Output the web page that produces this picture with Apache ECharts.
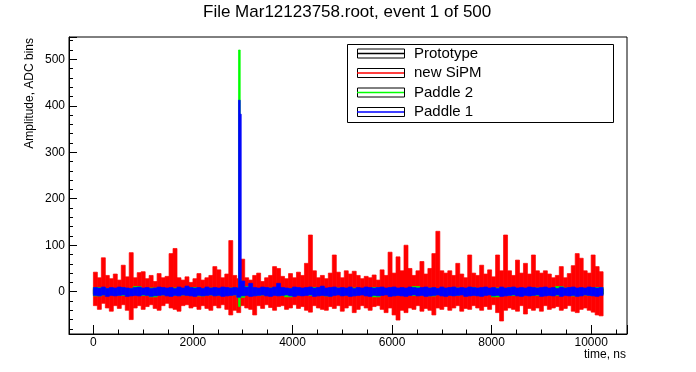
<!DOCTYPE html>
<html><head><meta charset="utf-8">
<script src="https://cdn.jsdelivr.net/npm/echarts@6/dist/echarts.min.js"></script>
<style>html,body{margin:0;padding:0;background:#fff}#c{width:696px;height:372px}</style>
</head><body><div id="c"></div>
<script>
const titleText = 'File Mar12123758.root, event 1 of 500';
const seriesNames = ['Prototype', 'new SiPM', 'Paddle 2', 'Paddle 1'];
const seriesColors = ['#000000', '#ff0000', '#00ff00', '#0000ff'];

// time bin (ns) of each stored envelope array; bin k spans [k*step, (k+1)*step]
const fineStep = 80;
const coarseStep = 160;

const redHigh = [
 42,30,73,35,28,38,25,57,32,84,30,41,43,28,35,22,
 39,30,33,82,93,30,25,32,20,28,39,25,30,35,54,47,
 30,38,110,35,28,70,30,25,35,40,22,30,35,54,50,33,
 28,39,30,42,35,61,122,45,30,35,28,40,79,42,30,45,
 38,44,35,28,33,30,36,25,47,35,85,40,75,45,100,50,
 35,45,65,38,50,82,130,45,40,45,35,61,38,30,79,40,
 35,57,38,47,32,79,45,122,45,35,68,40,61,38,79,45,
 40,45,38,30,35,54,30,39,56,82,72,45,40,79,54,43];
const redLow = [
 -30,-38,-25,-35,-42,-30,-36,-28,-40,-60,-35,-30,-38,-32,-28,-36,
 -40,-30,-25,-35,-38,-42,-30,-28,-35,-32,-38,-30,-36,-40,-30,-35,
 -28,-38,-50,-40,-45,-30,-35,-38,-50,-30,-36,-28,-34,-40,-32,-30,
 -38,-35,-28,-36,-32,-40,-44,-30,-35,-38,-40,-32,-36,-30,-42,-35,
 -30,-45,-38,-30,-35,-40,-32,-30,-38,-45,-35,-50,-61,-40,-45,-35,
 -38,-30,-42,-36,-40,-50,-35,-38,-32,-40,-35,-30,-42,-36,-38,-30,
 -35,-40,-32,-38,-28,-45,-63,-40,-35,-38,-42,-30,-48,-36,-40,-35,
 -42,-30,-38,-35,-32,-40,-36,-30,-42,-45,-38,-35,-40,-44,-50,-52];

const blueHigh = [
 9,8,10,7,9,8,10,9,8,7,9,10,8,9,7,8,
 10,9,8,9,7,10,8,12,9,8,9,7,10,8,9,8,
 10,9,8,9,8,23,10,18,9,8,10,9,8,10,18,9,
 8,7,10,9,8,9,10,8,9,12,8,9,10,8,9,8,
 10,7,9,8,10,9,8,9,10,8,9,10,8,9,8,10,
 9,8,9,10,8,9,7,10,8,9,10,8,9,8,10,9,
 8,9,10,8,9,7,10,8,9,10,8,9,8,10,9,8,
 9,10,8,9,7,10,8,9,10,8,9,8,10,9,8,9];
const blueLow = [
 -8,-9,-7,-10,-8,-9,-8,-7,-10,-9,-8,-9,-7,-8,-10,-9,
 -8,-7,-9,-10,-8,-9,-7,-8,-9,-10,-8,-9,-8,-7,-9,-8,
 -10,-9,-8,-7,-12,-9,-8,-10,-9,-8,-7,-9,-10,-8,-9,-8,
 -7,-9,-10,-8,-9,-8,-7,-10,-9,-8,-9,-10,-8,-7,-9,-8,
 -10,-9,-8,-7,-9,-10,-8,-9,-8,-7,-10,-9,-8,-9,-10,-8,
 -7,-9,-8,-10,-9,-8,-7,-9,-10,-8,-9,-8,-7,-10,-9,-8,
 -9,-10,-8,-7,-9,-8,-10,-9,-8,-7,-9,-10,-8,-9,-8,-7,
 -10,-9,-8,-9,-7,-10,-8,-9,-8,-10,-9,-7,-8,-9,-10,-8];
// pulse bins: [tStart, tEnd, low, high]
const bluePulse = [[2915, 2950, -6, 412], [2950, 2970, -6, 382]];

const greenHigh = [
 9,7,6,8,7,11,6,8,7,6,8,7,9,6,8,7,
 6,8,7,11,6,7,8,6,7,8,6,9,7,6,8,7,
 8,6,7,9,6,8,7,6,11,7,8,6,7,8,6,9,
 7,6,8,7,9,6,7,8,6,7,11,8,6,7,8,9];
const greenLow = [
 -9,-7,-6,-8,-7,-6,-8,-11,-7,-6,-8,-7,-6,-9,-7,-8,
 -6,-7,-12,-6,-8,-7,-6,-8,-11,-7,-6,-8,-7,-9,-6,-7,
 -8,-6,-7,-11,-6,-8,-7,-6,-8,-7,-9,-6,-7,-8,-6,-7,
 -8,-6,-11,-7,-8,-6,-7,-8,-6,-7,-8,-6,-9,-7,-8,-6];
const greenPulse = [[2915, 2950, -32, 520], [2950, 2975, -4, 25]];

const blackHigh = [
 5,4,6,5,4,5,6,4,5,5,4,6,5,4,5,6,
 4,5,5,6,4,5,4,6,5,5,4,5,6,4,5,5,
 4,6,5,4,5,5,6,4,5,4,6,5,5,4,5,6,
 4,5,5,6,4,5,4,6,5,5,4,5,6,4,5,6];
const blackLow = [
 -5,-4,-6,-5,-4,-5,-6,-4,-5,-5,-4,-6,-5,-4,-5,-6,
 -4,-5,-5,-6,-4,-5,-4,-6,-5,-5,-4,-5,-6,-4,-5,-5,
 -4,-6,-5,-4,-5,-5,-6,-4,-5,-4,-6,-5,-5,-4,-5,-6,
 -4,-5,-10,-6,-4,-5,-4,-6,-5,-5,-4,-5,-6,-4,-5,-5];

const xMin = -490, xMax = 10720;
const yMin = -91, yMax = 548;

function bins(high, low, step, pulse) {
  const out = [];
  for (let i = 0; i < high.length; i++) out.push([i * step, (i + 1) * step, low[i], high[i]]);
  return pulse ? out.concat(pulse) : out;
}

const FONT = '"Liberation Sans", Arial, Helvetica, sans-serif';
const chart = echarts.init(document.getElementById('c'), null, {renderer: 'canvas'});

function binSeries(name, data, color, z) {
  return {
    name, type: 'custom', data, xAxisIndex: 0, yAxisIndex: 0, z,
    encode: {x: [0, 1], y: [2, 3]},
    itemStyle: {color}, animation: false, silent: true,
    renderItem: function (params, api) {
      const a = api.coord([api.value(0), api.value(3)]);
      const b = api.coord([api.value(1), api.value(2)]);
      return {type: 'rect', shape: {x: a[0], y: a[1], width: b[0] - a[0], height: b[1] - a[1]},
        style: {fill: color, stroke: color, lineWidth: 0.7}};
    }
  };
}

chart.setOption({
  animation: false,
  backgroundColor: '#ffffff',
  title: {
    text: titleText, left: 203, top: 4, padding: 0,
    textStyle: {fontSize: 17, fontWeight: 'normal', color: '#000', fontFamily: FONT}
  },
  grid: {left: 69, top: 37, width: 558, height: 297, show: true, borderColor: '#000', borderWidth: 1, backgroundColor: 'rgba(0,0,0,0)', containLabel: false},
  xAxis: [
    {
      type: 'value', position: 'bottom', min: xMin, max: xMax, splitNumber: 5,
      axisLine: {show: true, onZero: false, lineStyle: {color: '#000', width: 1}},
      axisTick: {show: true, inside: true, length: 9, lineStyle: {color: '#000', width: 1}},
      axisLabel: {show: true, margin: 3, color: '#000', fontSize: 12, fontFamily: FONT,
        formatter: v => (Math.abs(v % 2000) < 1e-6 ? String(v) : '')},
      splitLine: {show: false}
    },
    {
      type: 'value', position: 'top', offset: -297, min: xMin, max: xMax, splitNumber: 22,
      axisLine: {show: false, onZero: false},
      axisTick: {show: true, inside: false, length: 4.5, lineStyle: {color: '#000', width: 1}},
      axisLabel: {show: false}, splitLine: {show: false}
    }
  ],
  yAxis: [
    {
      type: 'value', position: 'left', min: yMin, max: yMax, splitNumber: 6,
      axisLine: {show: true, onZero: false, lineStyle: {color: '#000', width: 1}},
      axisTick: {show: true, inside: true, length: 8, lineStyle: {color: '#000', width: 1}},
      axisLabel: {show: true, margin: 4, color: '#000', fontSize: 12, fontFamily: FONT,
        formatter: v => (Math.abs(v % 100) < 1e-6 ? String(v) : '')},
      splitLine: {show: false}
    },
    {
      type: 'value', position: 'right', offset: -558, min: yMin, max: yMax, splitNumber: 32,
      axisLine: {show: false, onZero: false},
      axisTick: {show: true, inside: false, length: 4, lineStyle: {color: '#000', width: 1}},
      axisLabel: {show: false}, splitLine: {show: false}
    }
  ],
  legend: [
    {
      orient: 'vertical', left: 357, top: 46, padding: 0, itemGap: 4.5,
      itemWidth: 47, itemHeight: 9, icon: 'rect', data: seriesNames, selectedMode: false,
      itemStyle: {color: 'rgba(0,0,0,0)', borderColor: '#000', borderWidth: 1},
      textStyle: {fontSize: 15, fontFamily: FONT, color: 'rgba(0,0,0,0)'}
    },
    {
      orient: 'vertical', left: 357, top: 46, padding: 0, itemGap: 4.5,
      itemWidth: 52, itemHeight: 9, icon: 'path://M0,0L52,0M0,3.75H47V5.25H0ZM0,9L52,9',
      data: seriesNames, selectedMode: false,
      itemStyle: {borderWidth: 0},
      textStyle: {fontSize: 15, fontFamily: FONT, color: '#000'}
    }
  ],
  graphic: [
    {type: 'rect', silent: true, shape: {x: 347.5, y: 44.5, width: 266, height: 78},
      style: {fill: 'none', stroke: '#000', lineWidth: 1}},
    {type: 'text', silent: true, x: 30, y: 38, rotation: Math.PI / 2,
      style: {text: 'Amplitude, ADC bins', font: '12px ' + FONT, fill: '#000',
        align: 'right', verticalAlign: 'middle', textAlign: 'right', textVerticalAlign: 'middle'}},
    {type: 'text', silent: true, x: 626, y: 355,
      style: {text: 'time, ns', font: '12px ' + FONT, fill: '#000',
        align: 'right', verticalAlign: 'middle', textAlign: 'right', textVerticalAlign: 'middle'}}
  ],
  series: [
    binSeries('new SiPM', bins(redHigh, redLow, fineStep), seriesColors[1], 2),
    binSeries('Prototype', bins(blackHigh, blackLow, coarseStep), seriesColors[0], 3),
    binSeries('Paddle 2', bins(greenHigh, greenLow, coarseStep, greenPulse), seriesColors[2], 4),
    binSeries('Paddle 1', bins(blueHigh, blueLow, fineStep, bluePulse), seriesColors[3], 5)
  ]
});
</script>
</body></html>
